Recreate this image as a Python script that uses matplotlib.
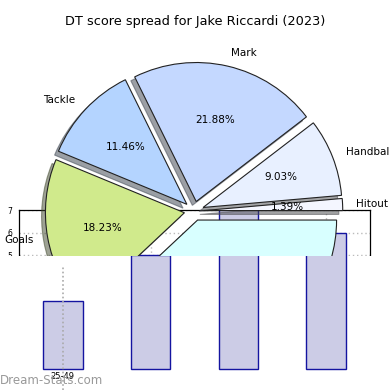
import matplotlib
matplotlib.use("Agg")
import matplotlib.pyplot as plt

# ---- data ----
title = "DT score spread for Jake Riccardi (2023)"
pie_labels = ["Hitout", "Handball", "Mark", "Tackle", "Goals", "Kick"]
pie_values = [1.39, 9.03, 21.88, 11.46, 18.23, 38.01]
pie_colors = ["#F4F6FF", "#E8F0FF", "#C4D8FF", "#B4D4FF", "#D0EA8C", "#D8FFFF"]

bar_categories = ["25-49", "50-74", "75-99", "100-124"]
bar_values = [3, 5, 7.5, 6]
bar_yticks = [5, 6, 7]
watermark = "Dream-Stats.com"

W = H = 390
fig = plt.figure(figsize=(3.9, 3.9), dpi=100)


def px_axes(x0, y0, x1, y1, **kw):
    """axes from pixel box (top-left origin)"""
    return fig.add_axes([x0 / W, 1 - y1 / H, (x1 - x0) / W, (y1 - y0) / H], **kw)


BOT = 369  # pixel row of value 0
# ---- bar axes (bottom layer) ----
ax_bar = px_axes(19, 210, 370, BOT)
ax_bar.set_zorder(1)
xs = list(range(len(bar_categories)))
ax_bar.bar(xs, bar_values, width=0.45, color="#CCCCE6", edgecolor="#1414A0", linewidth=1.0, zorder=2)
ax_bar.set_xlim(-0.5, len(xs) - 0.5)
ax_bar.set_ylim(0, 7)
ax_bar.set_yticks(bar_yticks)
ax_bar.set_yticklabels([str(v) for v in bar_yticks], fontsize=5.5)
ax_bar.set_xticks(xs)
ax_bar.set_xticklabels([])
ax_bar.tick_params(axis="both", length=0, pad=5)
ax_bar.grid(True, linestyle=(0, (1, 2)), color="#BBBBBB", linewidth=1.0)
ax_bar.set_axisbelow(True)
for s in ax_bar.spines.values():
    s.set_linewidth(0.9)

# ---- pie axes (middle layer, clipped at its bottom) ----
ax_pie = px_axes(0, 38, 390, 256)
ax_pie.set_zorder(2)
R = 139.0
cx, cy = 194, 211
wedges, texts, autotexts = ax_pie.pie(
    pie_values, labels=pie_labels, colors=pie_colors, startangle=0,
    explode=[0.07] * len(pie_values), shadow=True, autopct="%.2f%%",
    wedgeprops={"edgecolor": "#222222", "linewidth": 0.8},
    textprops={"fontsize": 7.5},
)
for t in texts + autotexts:
    t.set_clip_path(ax_pie.patch)
ax_pie.set_aspect("auto")
ax_pie.set_xlim(-cx / R, (W - cx) / R)
ax_pie.set_ylim(-(256 - cy) / R, (cy - 38) / R)
ax_pie.set_frame_on(False)
ax_pie.set_title(title, fontsize=9.3, pad=9)

# ---- lower cover axes (top layer) ----
spacing = (370 - 19) / len(xs)
unit = (BOT - 210) / 7.0
ax_low = px_axes(0, 256, 390, 390)
ax_low.set_zorder(3)
ax_low.set_facecolor("white")
ax_low.bar(xs, bar_values, width=0.45, color="#CCCCE6", edgecolor="#1414A0", linewidth=1.0, zorder=2)
ax_low.set_xlim(-0.5 - 19 / spacing, len(xs) - 0.5 + 20 / spacing)
ax_low.set_ylim(-(390 - BOT) / unit, (BOT - 256) / unit)
ax_low.axvline(xs[0], ymax=0.93, color="#AAAAAA", linestyle=(0, (1, 1.5)), linewidth=1.2, zorder=3)
for s in ax_low.spines.values():
    s.set_visible(False)
ax_low.set_xticks([])
ax_low.set_yticks([])
ax_low.text(xs[0], -0.35, bar_categories[0], fontsize=6, ha="center", va="center", zorder=4)

fig.text(0 / W, 1 - 380 / H, watermark, fontsize=8.5, color="#999999", ha="left", va="center", zorder=10)

fig.savefig("out.png", dpi=100)
